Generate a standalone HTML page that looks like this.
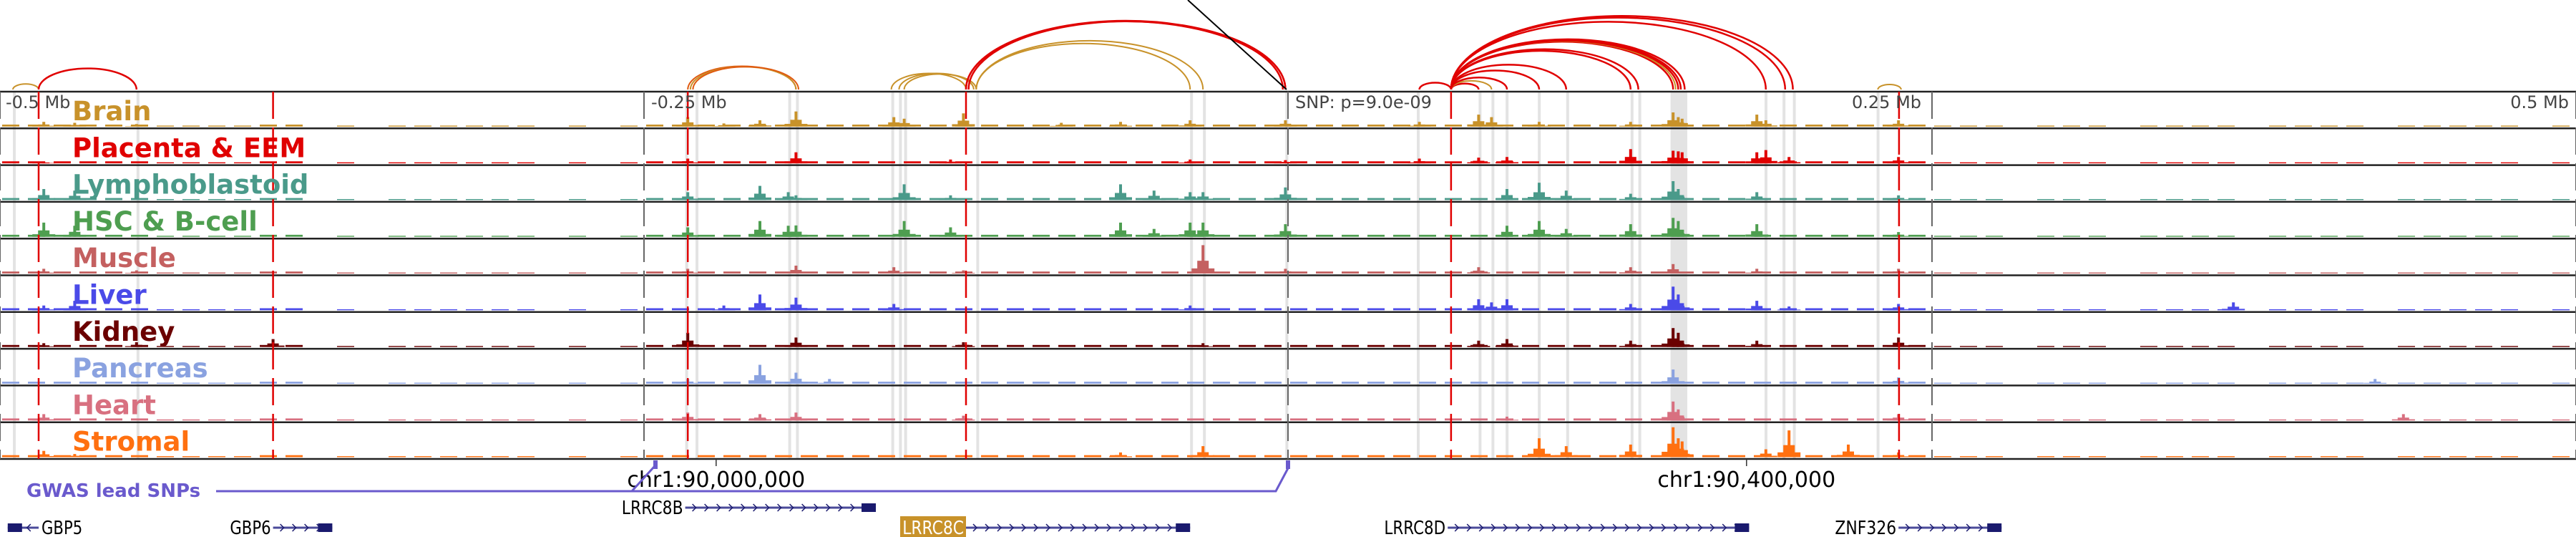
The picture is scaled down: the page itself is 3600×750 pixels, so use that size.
<!DOCTYPE html>
<html><head><meta charset="utf-8"><style>
html,body{margin:0;padding:0;background:#fff;}
svg{display:block;}
text{font-family:"DejaVu Sans","Liberation Sans",sans-serif;}
</style></head><body>
<svg id="chart" width="3600" height="750" viewBox="0 0 3600 750" xmlns="http://www.w3.org/2000/svg">
<g id="bands"></g>
<g id="arcs"></g>
<g id="tracks"></g>
<g id="vlines"></g>
<g id="labels"></g>
<g id="bottom"></g>
</svg>
<script>
// ---- data ----
const trackNames = ["Brain","Placenta & EEM","Lymphoblastoid","HSC & B-cell","Muscle","Liver","Kidney","Pancreas","Heart","Stromal"];
const trackColors = ["#c8922a","#e00000","#4a9a8a","#4e9e50","#c46060","#4a4ae8","#6b0000","#8aa2e0","#d87080","#ff7010"];
const axisTicksKb = [-500,-250,250,500];
const axisTickLabels = ["-0.5 Mb","-0.25 Mb","0.25 Mb","0.5 Mb"];
const snpLabel = "SNP: p=9.0e-09";
const redLinesKb = [-485,-394,-233,-125,63.3,237.2];
const bandsKb = [[-495,-494],[-447,-446],[-234,-233],[-230,-229],[-194,-193],[-191,-190],[-154,-153],[-151,-150],[-149,-148],[-121,-120],[-38,-37],[-33,-32],[-1,0],[50,51],[74,75],[79,80],[84.5,85.5],[97,98],[108,109],[133,134],[136,137],[148.5,155],[185,186],[192,193],[196,197],[228.5,229.5]];
const bgLevels = [2,2,2,2,2,2,1,1,1,1,2,2,0,1,0,1,1,1,1,1,1,0,1,0,1,2,2,2,2,2,2,2,2,2,2,2,2,2,2,2,2,2,2,2,2,2,2,2,2,2,2,2,2,2,2,2,2,2,2,2,2,2,2,2,2,2,2,2,2,2,2,2,2,2,2,1,1,1,0,1,1,1,0,1,1,1,1,0,1,1,1,1,0,1,1,1,1,1,0,1];
const peaks = [
 [[-483,.15],[-471,.12],[-447,.08],[-233,.3],[-219,.1],[-205,.2],[-191,.48],[-153,.3],[-149,.25],[-126,.42],[-88,.12],[-65,.15],[-38,.2],[-1,.2],[51,.15],[74,.38],[79,.3],[97.5,.15],[133,.15],[149.5,.45],[151.5,.3],[153,.25],[182,.38],[185.5,.2],[237,.2]],
 [[-483,.06],[-233,.15],[-191,.35],[-131,.12],[-38,.12],[-1,.1],[51,.15],[74,.18],[85,.2],[133,.45],[149.5,.4],[151.5,.38],[153,.35],[182,.35],[185.5,.42],[194.5,.2],[237,.2]],
 [[-483,.35],[-471,.3],[-233,.25],[-205,.45],[-194,.25],[-191,.15],[-149,.5],[-131,.15],[-65,.5],[-52,.3],[-38,.25],[-33,.25],[-1,.4],[85,.35],[97.5,.55],[108,.3],[133,.2],[149.5,.6],[151.5,.35],[182,.25],[237,.15]],
 [[-483,.45],[-471,.35],[-233,.3],[-205,.5],[-194,.35],[-191,.36],[-149,.5],[-131,.3],[-65,.45],[-52,.25],[-38,.45],[-33,.45],[-1,.4],[85,.35],[97.5,.5],[108,.25],[133,.4],[149.5,.6],[151.5,.5],[182,.4],[237,.15]],
 [[-483,.15],[-447,.1],[-233,.15],[-191,.25],[-153,.2],[-126,.1],[-33,.9],[-1,.15],[74,.2],[133,.2],[149.5,.3],[182,.15],[237,.15]],
 [[-483,.15],[-471,.3],[-219,.15],[-205,.5],[-191,.4],[-153,.2],[-38,.15],[74,.35],[79,.25],[85,.35],[133,.2],[149.5,.75],[151.5,.5],[182,.3],[194.5,.12],[237,.2],[367,.25]],
 [[-483,.12],[-447,.15],[-394,.25],[-233,.45],[-191,.3],[-126,.15],[-33,.12],[74,.2],[85,.25],[133,.2],[149.5,.6],[151.5,.45],[182,.2],[237,.3]],
 [[-233,.15],[-205,.6],[-191,.35],[-178,.15],[149.5,.45],[237,.2],[422,.15]],
 [[-483,.2],[-233,.25],[-205,.2],[-191,.25],[-126,.15],[85,.12],[149.5,.6],[151.5,.35],[237,.2],[433,.2]],
 [[-483,.2],[-471,.1],[-65,.15],[-33,.35],[97.5,.6],[108,.35],[133,.4],[149.5,.95],[151.5,.6],[153,.5],[185.5,.25],[194.5,.85],[217.5,.4],[237,.15]]
];
// arcs [startKb, endKb, colorIndex(0 tan,1 red,2 orange)]
const arcsData = [
 [-495,-485,0],[-485,-447,1],[-233,-191,2],[-232,-191,0],[-231,-190,2],
 [-154,-125,0],[-151,-122,0],[-149,-121,0],[-125,-1,1],[-125,-2,1],[-124,-1,1],[-121,-38,0],[-121,-33,0],
 [51,63.3,1],[63.3,74,1],[63.3,79,0],[63.3,85,1],[63.3,97.5,1],[63.3,108,1],[63.3,133,1],[63.3,136,1],
 [63.3,149.5,1],[63.3,150.5,0],[63.3,151.5,1],[63.3,152.5,1],[63.3,154,1],[63.3,185.5,1],[63.3,193,1],[63.3,196,1],[229,238,0]
];
const gwasKb = [-250,0];
const genes = [
 {name:"GBP5",s:-497,e:-485,row:1,dir:-1,labelSide:"right"},
 {name:"GBP6",s:-394,e:-371,row:1,dir:1,labelSide:"left"},
 {name:"LRRC8B",s:-234,e:-160,row:0,dir:1,labelSide:"left"},
 {name:"LRRC8C",s:-125,e:-38,row:1,dir:1,labelSide:"left",hl:true},
 {name:"LRRC8D",s:62,e:179,row:1,dir:1,labelSide:"left"},
 {name:"ZNF326",s:237,e:277,row:1,dir:1,labelSide:"left"}
];
const coordLabelsKb = [-222,178];
const coordLabels = ["chr1:90,000,000","chr1:90,400,000"];

// ---- scales ----
const NS="http://www.w3.org/2000/svg";
const X = kb => 1800 + kb*3.6;
const TOP=128, TH=51.3, NT=10, BOTTOM=TOP+TH*NT;
const trackTop = i => TOP + i*TH;
const H = v => v*44;
function mk(tag, attrs, parent){const el=document.createElementNS(NS,tag);for(const k in attrs)el.setAttribute(k,attrs[k]);parent.appendChild(el);return el;}
const gB=document.getElementById('bands'),gA=document.getElementById('arcs'),gT=document.getElementById('tracks'),gV=document.getElementById('vlines'),gL=document.getElementById('labels'),gBot=document.getElementById('bottom');

// bands
bandsKb.forEach(b=>{
 const x1=X(b[0]),x2=X(b[1]);
 const r=mk('rect',{x:x1,y:TOP,width:Math.max(4,x2-x1),height:BOTTOM-TOP,fill:'#e3e3e3'},gB);
 
 
});

// arcs
const arcCols=['#c8922a','#e00000','#e05a10'];
arcsData.forEach(a=>{
 const x1=X(a[0]),x2=X(a[1]),w=x2-x1,h=w*0.215;
 const p=mk('path',{d:`M${x1},125 A${w/2},${h} 0 0 1 ${x2},125`,fill:'none',stroke:arcCols[a[2]],'stroke-width':a[2]==1?2.5:2},gA);
 
 
});
const snpLine=mk('line',{x1:X(0)-2,y1:125,x2:1660,y2:0,stroke:'#000','stroke-width':2},gA);



// tracks
for(let i=0;i<NT;i++){
 const top=trackTop(i),base=top+TH-2.5;
 const g=mk('g',{},gT);
 
 
 bgLevels.forEach((v,j)=>{
  if(!v)return;
  const x=X(-500+j*10);
  const r=mk('rect',{x:x+3,y:base-v*1.4,width:24,height:v*1.4,fill:trackColors[i]},g);
  
  
 });
 peaks[i].forEach(p=>{
  const h=H(p[1]),x=X(p[0]);
  const r=mk('rect',{x:x-2,y:base-h,width:4,height:h,fill:trackColors[i]},g);
  
  
  const r2=mk('rect',{x:x-8,y:base-h*0.45,width:16,height:h*0.45,fill:trackColors[i]},g);
  
  
  const r3=mk('rect',{x:x-16,y:base-h*0.18,width:32,height:h*0.18,fill:trackColors[i]},g);
  
  
 });
 const l=mk('line',{x1:0,y1:top+TH,x2:3600,y2:top+TH,stroke:'#222','stroke-width':2.5},g);
 
 
 const t=mk('text',{x:101,y:top+40,fill:trackColors[i],'font-size':37,'font-weight':'bold'},gL);
 t.textContent=trackNames[i];
 
 
}
const topLine=mk('line',{x1:0,y1:TOP,x2:3600,y2:TOP,stroke:'#222','stroke-width':2.5},gT);



// vertical lines
axisTicksKb.concat([0]).forEach(k=>{
 const l=mk('line',{x1:X(k),y1:TOP,x2:X(k),y2:BOTTOM,stroke:'#666','stroke-width':2,'stroke-dasharray':'38 12'},gV);
 
 
});
redLinesKb.forEach(k=>{
 const l=mk('line',{x1:X(k),y1:TOP,x2:X(k),y2:BOTTOM,stroke:'#e00000','stroke-width':2.5,'stroke-dasharray':'38 12'},gV);
 
 
});
axisTicksKb.forEach((k,i)=>{
 const anchor = k<=-500?'start':(k>=500?'end':'start');
 const x = k<=-500?8:(k>=500?3590:X(k)+(k<0?10:-112));
 const t=mk('text',{x:x,y:151,fill:'#444','font-size':24,'text-anchor':anchor},gL);
 t.textContent=axisTickLabels[i];
 
 
});
const st=mk('text',{x:1810,y:151,fill:'#444','font-size':24},gL);
st.textContent=snpLabel;



// bottom: coordinate labels
coordLabelsKb.forEach((k,i)=>{
 const tk=mk('line',{x1:X(k),y1:BOTTOM,x2:X(k),y2:BOTTOM+10,stroke:'#333','stroke-width':1.5},gBot);
 
 
 const t=mk('text',{x:X(k),y:680,fill:'#000','font-size':30,'text-anchor':'middle','font-family':'Liberation Sans, sans-serif'},gBot);
 t.textContent=coordLabels[i];
 
 
});

// GWAS
const gl=mk('text',{x:37,y:694,fill:'#6a5acd','font-size':26,'font-weight':'bold'},gBot);
gl.textContent="GWAS lead SNPs";


const gx0=X(gwasKb[0]),gx1=X(gwasKb[1]);
const gp=mk('path',{d:`M302,686 L${gx1-17},686 L${gx1},654 M${gx0-17},686 L${gx0+14},652`,fill:'none',stroke:'#6a5acd','stroke-width':3},gBot);


gwasKb.forEach(k=>{
 const r=mk('rect',{x:X(k)-3+(k<0?16:0),y:643,width:6,height:12,fill:'#6a5acd'},gBot);
 
 
});

// genes
genes.forEach(g=>{
 const y=g.row===0?709:737;
 const x1=X(g.s),x2=X(g.e);
 const grp=mk('g',{},gBot);
 
 
 mk('line',{x1:x1,y1:y,x2:x2,y2:y,stroke:'#4a4a9a','stroke-width':3},grp);
 let d='';
 for(let x=x1+10;x<x2-14;x+=17){ d+= g.dir>0?`M${x},${y-5} L${x+5},${y} L${x},${y+5} `:`M${x+5},${y-5} L${x},${y} L${x+5},${y+5} `; }
 mk('path',{d:d,fill:'none',stroke:'#1a1a6e','stroke-width':1.5},grp);
 mk('rect',{x:g.dir>0?x2-20:x1,y:y-6,width:20,height:12,fill:'#1a1a6e'},grp);
 const tx = g.labelSide==='left'? x1-3 : x2+4;
 if(g.hl){ mk('rect',{x:x1-92,y:y-16,width:92,height:32,fill:'#c8922a'},grp); }
 const t=mk('text',{x:tx,y:y+9,'font-size':26,fill:g.hl?'#fff':'#000','text-anchor':g.labelSide==='left'?'end':'start','font-family':'Liberation Sans, sans-serif',textLength:g.name.length*14.3,lengthAdjust:'spacingAndGlyphs'},grp);
 t.textContent=g.name;
 
 
});
</script>
</body></html>
